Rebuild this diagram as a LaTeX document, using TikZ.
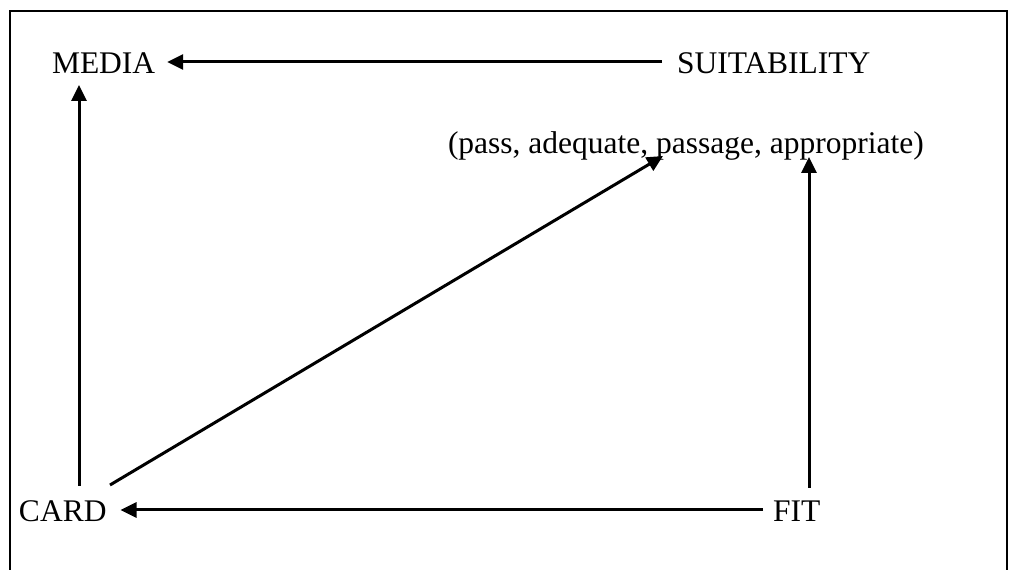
\documentclass[tikz,border=0pt]{standalone}
\usepackage{fontspec}
\setmainfont{Liberation Serif}
\usetikzlibrary{arrows.meta,calc}
\tikzset{
  lbl/.style={inner sep=0pt, outer sep=0pt, anchor=base west, font=\fontsize{31.5}{38}\selectfont},
  conn/.style={line width=3pt, -{Triangle[length=16pt,width=15pt]}},
  frame/.style={line width=2.4pt}
}
\begin{document}
\begin{tikzpicture}[x=1pt,y=1pt]
\useasboundingbox (0,0) rectangle (1013,570);
\draw[frame] (10,-5) -- (10,559) -- (1007,559) -- (1007,-5);
\node[lbl] (media) at (52,496) {MEDIA};
\node[lbl] (suit) at (677,496) {SUITABILITY};
\node[lbl] (pass) at (448,416) {(pass, adequate, passage, appropriate)};
\node[lbl] (card) at (19,48) {CARD};
\node[lbl] (fit) at (773,48) {FIT};
\draw[conn] ([shift={(-15pt,12pt)}]suit.base west) -- ([shift={(12pt,12pt)}]media.base east);
\draw[conn] ([shift={(60pt,36pt)}]card.base west) -- ([shift={(27pt,-11pt)}]media.base west);
\draw[conn] ([shift={(91pt,37pt)}]card.base west) -- ([shift={(215pt,-2pt)}]pass.base west);
\draw[conn] ([shift={(36pt,34pt)}]fit.base west) -- ([shift={(361pt,-3pt)}]pass.base west);
\draw[conn] ([shift={(-10pt,12pt)}]fit.base west) -- ([shift={(14pt,12pt)}]card.base east);
\end{tikzpicture}
\end{document}
